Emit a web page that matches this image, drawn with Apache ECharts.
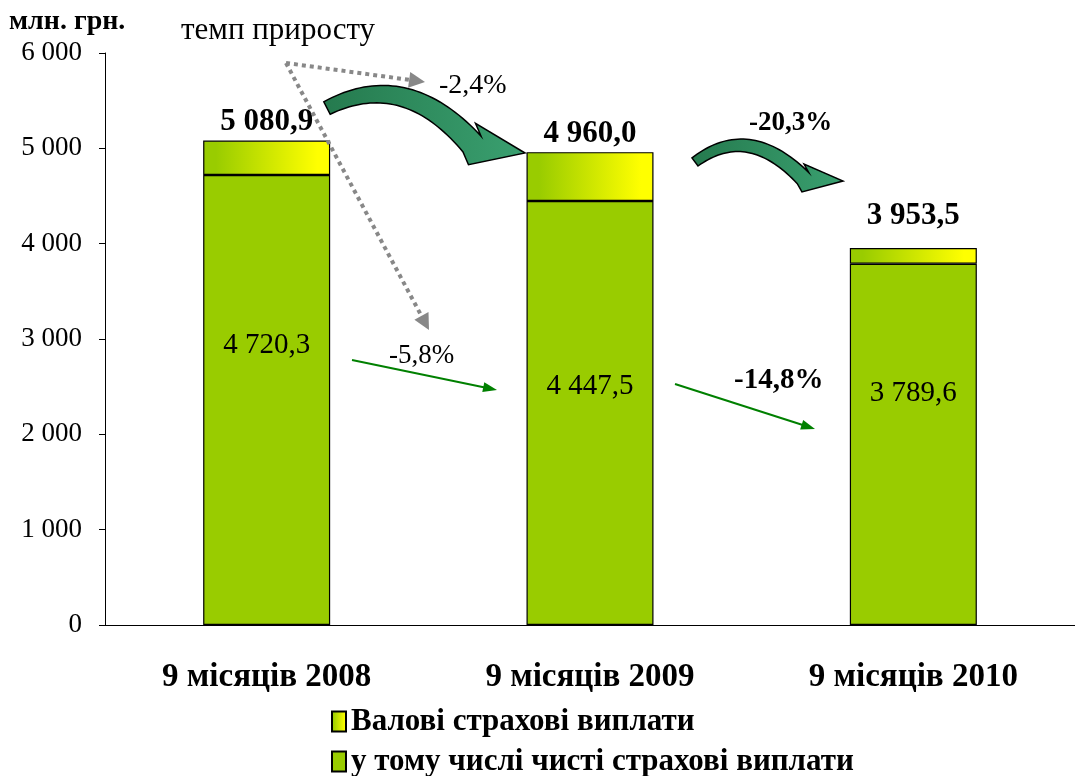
<!DOCTYPE html>
<html><head><meta charset="utf-8">
<script src="https://cdn.jsdelivr.net/npm/echarts@6/dist/echarts.min.js"></script>
<style>html,body{margin:0;padding:0;background:#fff}#c{width:1075px;height:776px}</style>
</head><body><div id="c"></div>
<script>
const categories = ['9 місяців 2008', '9 місяців 2009', '9 місяців 2010'];
const grossPayments = [5080.9, 4960.0, 3953.5];
const netPayments = [4720.3, 4447.5, 3789.6];
const seriesNames = ['Валові страхові виплати', 'у тому числі чисті страхові виплати'];
const yTicks = [0, 1000, 2000, 3000, 4000, 5000, 6000];
const grossGrowth = ['-2,4%', '-20,3%'];
const netGrowth = ['-5,8%', '-14,8%'];

const FONT = '"Liberation Serif", "Times New Roman", serif';
function fmtNum(v, dec) {
  const s = v.toFixed(dec);
  const [i, d] = s.split('.');
  const ii = i.replace(/\B(?=(\d{3})+(?!\d))/g, ' ');
  return d !== undefined ? ii + ',' + d : ii;
}
const topPart = grossPayments.map((g, i) => +(g - netPayments[i]).toFixed(1));

const netLabelOffsets = [[0, -55], [0, -27], [0, -51]];
const grossLabelOffsets = [[0, 0], [0, 0], [0, -14]];

function bez(p0, c, p1, t) {
  const u = 1 - t;
  return [u*u*p0[0] + 2*u*t*c[0] + t*t*p1[0], u*u*p0[1] + 2*u*t*c[1] + t*t*p1[1]];
}
function bezTan(p0, c, p1, t) {
  const u = 1 - t;
  const dx = 2*u*(c[0]-p0[0]) + 2*t*(p1[0]-c[0]);
  const dy = 2*u*(c[1]-p0[1]) + 2*t*(p1[1]-c[1]);
  const l = Math.hypot(dx, dy);
  return [dx/l, dy/l];
}
function curvedArrow(p0, c, base, tip, tw, bw, hw) {
  const L = [], R = [];
  const N = 40;
  for (let k = 0; k <= N; k++) {
    const t = k / N;
    const p = bez(p0, c, base, t);
    const tg = bezTan(p0, c, base, t);
    const n = [-tg[1], tg[0]];
    const w = tw + (bw - tw) * t;
    L.push([p[0] + n[0]*w, p[1] + n[1]*w]);
    R.push([p[0] - n[0]*w, p[1] - n[1]*w]);
  }
  const dx = tip[0]-base[0], dy = tip[1]-base[1], l = Math.hypot(dx, dy);
  const n = [-dy/l, dx/l];
  return L.concat([[base[0]+n[0]*hw, base[1]+n[1]*hw], tip, [base[0]-n[0]*hw, base[1]-n[1]*hw]]).concat(R.reverse());
}
function arrowHead(from, to, len, hw) {
  const dx = to[0]-from[0], dy = to[1]-from[1], l = Math.hypot(dx, dy);
  const u = [dx/l, dy/l], n = [-u[1], u[0]];
  const b = [to[0]-u[0]*len, to[1]-u[1]*len];
  return [to, [b[0]+n[0]*hw, b[1]+n[1]*hw], [b[0]-n[0]*hw, b[1]-n[1]*hw]];
}
function lineEnd(from, to, len) {
  const dx = to[0]-from[0], dy = to[1]-from[1], l = Math.hypot(dx, dy);
  return [to[0]-dx/l*len, to[1]-dy/l*len];
}

const greenGrad = {type:'linear', x:0, y:0, x2:1, y2:0, colorStops:[{offset:0, color:'#257A4E'},{offset:1, color:'#3AA070'}]};
const graphics = [];
function addCurved(p0, c, base, tip, tw, bw, hw) {
  graphics.push({type:'polygon', z:100, shape:{points: curvedArrow(p0, c, base, tip, tw, bw, hw)}, style:{fill: greenGrad, stroke:'#000', lineWidth:1.5}});
}
function addStraight(from, to, color, width, dash, len, hw) {
  const e = lineEnd(from, to, len*0.8);
  graphics.push({type:'line', z:100, shape:{x1:from[0], y1:from[1], x2:e[0], y2:e[1]}, style:{stroke:color, lineWidth:width, lineDash:dash}});
  graphics.push({type:'polygon', z:100, shape:{points: arrowHead(from, to, len, hw)}, style:{fill:color}});
}
function addText(x, y, text, bold, size) {
  graphics.push({type:'text', z:100, x:x, y:y, style:{text:text, font:(bold?'bold ':'') + size + 'px ' + FONT, fill:'#000', textVerticalAlign:'middle'}});
}

addStraight([286,63], [425,82], '#888888', 4, [4,4], 16, 8);
addStraight([286,63], [429,330], '#888888', 4, [4,4], 16, 8);
addCurved([327,108], [405,68], [472,144], [525,153], 7, 12, 21);
addCurved([695,162], [748,122], [803,178], [843,181], 5, 8, 14);
addStraight([352,360], [497,390], '#008000', 2, null, 14, 5);
addStraight([675,384], [815,429], '#008000', 2, null, 14, 5);
addText(9, 22, 'млн. грн.', true, 28);
addText(181, 31, 'темп приросту', false, 31);
addText(439, 86, grossGrowth[0], false, 28);
addText(749, 123, grossGrowth[1], true, 27);
addText(389, 356, netGrowth[0], false, 27);
addText(734, 381, netGrowth[1], true, 29);

const legendText = {fontFamily: FONT, fontWeight: 'bold', fontSize: 31, color: '#000'};
const chart = echarts.init(document.getElementById('c'));
chart.setOption({
  animation: false,
  backgroundColor: '#fff',
  textStyle: {fontFamily: FONT},
  grid: {left: 105, right: 0, top: 53, bottom: 151},
  legend: [
    {left: 326, top: 701, itemWidth: 14, itemHeight: 20, icon: 'rect', itemGap: 4,
      data: [seriesNames[0]], textStyle: legendText},
    {left: 326, top: 741, itemWidth: 14, itemHeight: 20, icon: 'rect', itemGap: 4,
      data: [seriesNames[1]], textStyle: legendText}
  ],
  xAxis: {
    type: 'category', data: categories,
    axisLine: {lineStyle: {color: '#000', width: 1}},
    axisTick: {length: 10, lineStyle: {color: '#000'}},
    axisLabel: {margin: 36, fontFamily: FONT, fontWeight: 'bold', fontSize: 33, color: '#000'}
  },
  yAxis: {
    type: 'value', min: 0, max: 6000, interval: 1000,
    splitLine: {show: false},
    axisLine: {show: true, lineStyle: {color: '#000', width: 1}},
    axisTick: {show: true, length: 6, lineStyle: {color: '#000'}},
    axisLabel: {margin: 23, fontFamily: FONT, fontSize: 27, color: '#000',
      formatter: v => yTicks.includes(v) ? fmtNum(v, 0) : ''}
  },
  series: [
    {
      name: seriesNames[1], type: 'bar', stack: 'a', barWidth: 127,
      data: netPayments.map((v, i) => ({value: v, label: {offset: netLabelOffsets[i]}})),
      itemStyle: {color: '#99CC00', borderColor: '#000', borderWidth: 1.2},
      label: {show: true, position: 'inside', formatter: p => fmtNum(netPayments[p.dataIndex], 1),
        fontFamily: FONT, fontSize: 29, color: '#000'}
    },
    {
      name: seriesNames[0], type: 'bar', stack: 'a', barWidth: 127,
      data: topPart.map((v, i) => ({value: v, label: {offset: grossLabelOffsets[i]}})),
      itemStyle: {color: {type:'linear', x:0, y:0, x2:1, y2:0, colorStops:[{offset:0, color:'#99CC00'},{offset:0.1, color:'#99CC00'},{offset:0.9, color:'#FFFF00'},{offset:1, color:'#FFFF00'}]},
        borderColor: '#000', borderWidth: 1.2},
      label: {show: true, position: 'top', distance: 3, formatter: p => fmtNum(grossPayments[p.dataIndex], 1),
        fontFamily: FONT, fontWeight: 'bold', fontSize: 31, color: '#000'}
    }
  ],
  graphic: graphics
});
</script></body></html>
